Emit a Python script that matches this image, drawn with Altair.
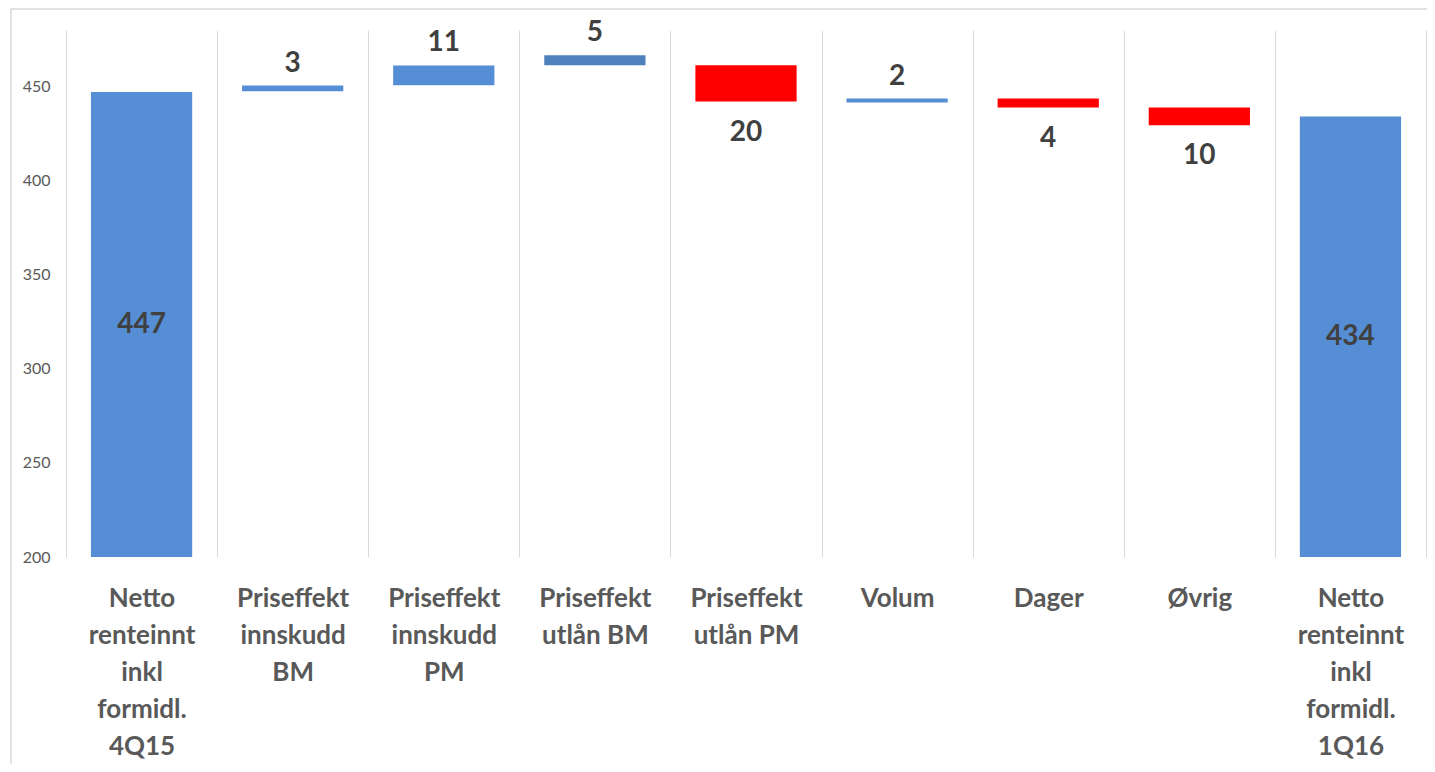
import altair as alt
import pandas as pd

categories = [
    "Netto\nrenteinnt\ninkl\nformidl.\n4Q15",
    "Priseffekt\ninnskudd\nBM",
    "Priseffekt\ninnskudd\nPM",
    "Priseffekt\nutlån BM",
    "Priseffekt\nutlån PM",
    "Volum",
    "Dager",
    "Øvrig",
    "Netto\nrenteinnt\ninkl\nformidl.\n1Q16",
]
value_labels = [447, 3, 11, 5, 20, 2, 4, 10, 434]
bar_low = [200, 447.5, 450.7, 461.3, 442.0, 441.5, 438.8, 429.4, 200]
bar_high = [447, 450.5, 461.2, 466.6, 461.3, 443.6, 443.6, 438.8, 434]
kinds = ["total", "up", "up", "up_b", "down", "up", "down", "down", "total"]
y_ticks = [200, 250, 300, 350, 400, 450]

df = pd.DataFrame({
    "cat": categories,
    "label": value_labels,
    "low": bar_low,
    "high": bar_high,
    "kind": kinds,
})

W, H = 1360, 527

x_enc = alt.X(
    "cat:N",
    sort=categories,
    scale=alt.Scale(paddingInner=0, paddingOuter=0),
    axis=alt.Axis(
        title=None, labelAngle=0, domain=False, ticks=False, grid=True,
        gridColor="#d9d9d9", gridWidth=1, tickBand="extent",
        labelExpr="split(datum.label, '\\n')",
        labelFont="Lato", labelFontSize=26, labelFontWeight="bold",
        labelColor="#595959", labelLineHeight=37, labelBaseline="top",
        labelPadding=28, labelLimit=0,
    ),
)
y_scale = alt.Scale(domain=[200, 480], nice=False, zero=False)

base = alt.Chart(df)

bars = base.mark_bar(width=alt.RelativeBandSize(0.67)).encode(
    x=x_enc,
    y=alt.Y(
        "low:Q", scale=y_scale,
        axis=alt.Axis(
            title=None, values=y_ticks, grid=False, domain=False, ticks=False,
            labelFont="Lato", labelFontSize=16, labelColor="#595959",
            labelPadding=16,
        ),
    ),
    y2="high:Q",
    color=alt.Color(
        "kind:N",
        scale=alt.Scale(domain=["total", "up", "up_b", "down"],
                        range=["#558ed5", "#558ed5", "#4f81bd", "#ff0000"]),
        legend=None,
    ),
)

text_style = dict(font="Lato", fontSize=28, fontWeight="bold", color="#404040",
                  baseline="middle")

txt_total = base.transform_filter("datum.kind == 'total'").transform_calculate(
    mid="(datum.low + datum.high) / 2"
).mark_text(**text_style).encode(
    x=alt.X("cat:N", sort=categories), y=alt.Y("mid:Q", scale=y_scale), text="label:Q"
)
txt_up = base.transform_filter("datum.kind == 'up' || datum.kind == 'up_b'").mark_text(
    dy=-22, **text_style
).encode(x=alt.X("cat:N", sort=categories), y=alt.Y("high:Q", scale=y_scale), text="label:Q")
txt_down = base.transform_filter("datum.kind == 'down'").mark_text(
    dy=31, **text_style
).encode(x=alt.X("cat:N", sort=categories), y=alt.Y("low:Q", scale=y_scale), text="label:Q")

frame = alt.Chart(pd.DataFrame({"f": [0]})).mark_rect(
    filled=False, stroke="#d9d9d9", strokeWidth=1.5
).encode(x=alt.value(-55), x2=alt.value(1390), y=alt.value(-21), y2=alt.value(760))

chart = alt.layer(frame, bars, txt_total, txt_up, txt_down).properties(
    width=W, height=H,
    background="white",
    autosize=alt.AutoSizeParams(type="none"),
    padding={"left": 58, "top": 22, "right": 1, "bottom": 207},
).configure_view(strokeWidth=0, stroke="transparent")

chart.save("out.html", embed_options={"renderer": "svg", "actions": False})
